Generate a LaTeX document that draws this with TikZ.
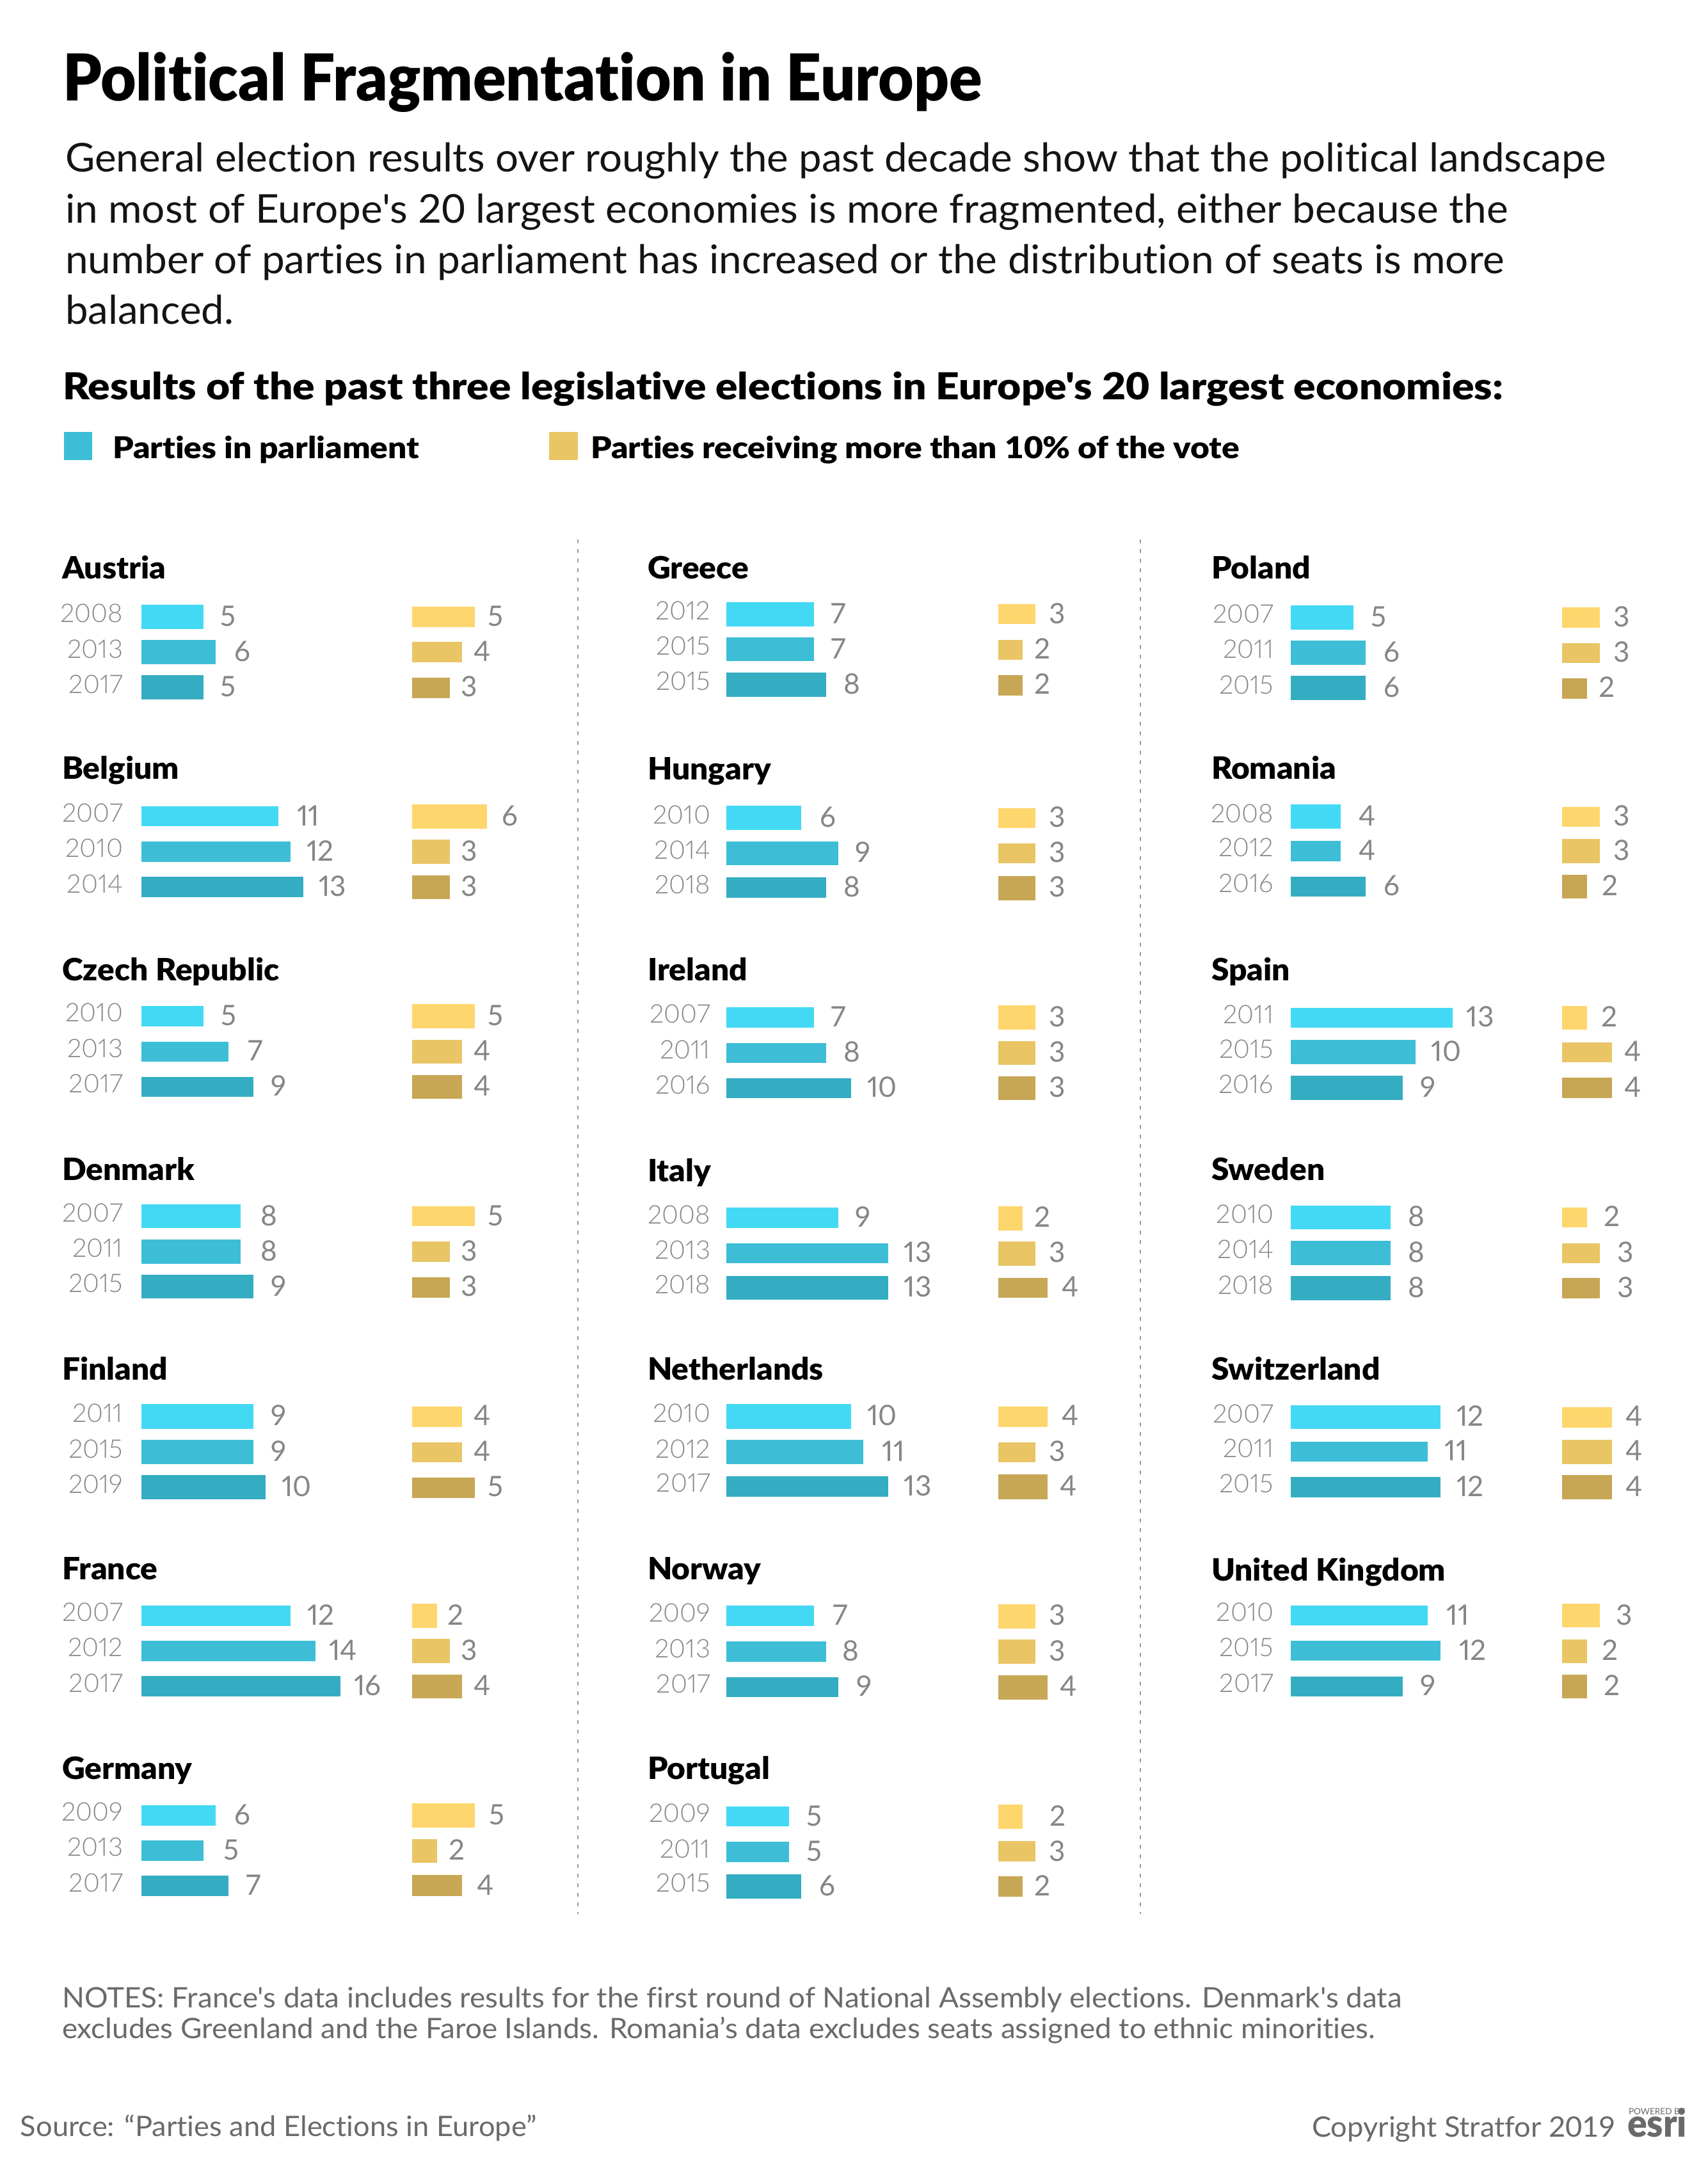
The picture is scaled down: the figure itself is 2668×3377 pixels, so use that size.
\documentclass[tikz,border=0pt]{standalone}
\usepackage{fontspec}
\newfontfamily\regf[Ligatures=NoCommon]{Lato}
\newfontfamily\bodyf[FakeStretch=1.025,Ligatures=NoCommon]{Lato}
\newfontfamily\bodyg[FakeStretch=1.03,Ligatures=NoCommon]{Lato}
\newfontfamily\notef[FakeStretch=1.042,Ligatures=NoCommon]{Lato}
\newfontfamily\srcf[FakeStretch=1.028,Ligatures=NoCommon]{Lato}
\newfontfamily\numf[Numbers=Proportional]{Lato}
\newfontfamily\yearf[Numbers=Proportional]{Lato Light}
\newfontfamily\titlef[FakeStretch=0.95,Ligatures=NoCommon]{Lato Black}
\newfontfamily\subf[FakeStretch=1.104,Ligatures=NoCommon]{Lato Black}
\newfontfamily\legf[FakeStretch=1.095,Ligatures=NoCommon]{Lato Black}
\newfontfamily\ctyf[FakeStretch=1.035,Ligatures=NoCommon]{Lato Black}
\newfontfamily\esrif[FakeStretch=0.95]{Lato Black}
\newfontfamily\powf{Lato}
\definecolor{tA}{HTML}{43D9F4}
\definecolor{tB}{HTML}{3DBED6}
\definecolor{tC}{HTML}{34ADC2}
\definecolor{yA}{HTML}{FED66E}
\definecolor{yB}{HTML}{E9C565}
\definecolor{yC}{HTML}{C7A755}
\definecolor{yeargrey}{HTML}{868686}
\definecolor{numgrey}{HTML}{868686}
\definecolor{footgrey}{HTML}{6A6A6A}
\definecolor{divgrey}{HTML}{9A9A9A}
\tikzset{
  txt/.style={anchor=base west,inner sep=0pt,outer sep=0pt},
  titletxt/.style={txt,font=\titlef\fontsize{50.5}{60}\selectfont},
  bodytxt/.style={txt,text=black!92,font=\bodyf\fontsize{31}{36}\selectfont},
  bodytxtb/.style={txt,text=black!92,font=\bodyg\fontsize{31}{36}\selectfont},
  subtxt/.style={txt,font=\subf\fontsize{29}{34}\selectfont},
  legtxt/.style={txt,font=\legf\fontsize{23.5}{28}\selectfont},
  ctytxt/.style={txt,font=\ctyf\fontsize{24}{28}\selectfont},
  yeartxt/.style={anchor=base east,inner sep=0pt,outer sep=0pt,text=yeargrey,font=\yearf\fontsize{20}{24}\selectfont},
  numtxt/.style={txt,text=numgrey,font=\numf\fontsize{22}{26}\selectfont},
  notetxt/.style={txt,text=footgrey,font=\notef\fontsize{22}{26}\selectfont},
  foottxt/.style={txt,text=footgrey,font=\srcf\fontsize{22}{26}\selectfont},
  divider/.style={draw=divgrey,line width=1pt,dash pattern=on 3pt off 4.5pt},
}
% row id, year, teal top, bottom, value, number x, yellow top, bottom, value, number x, shade letter
\newcommand{\barrow}[2]{\def\rowid{#1}\def\rowyear{#2}\barrowB}
\newcommand{\barrowB}[9]{%
  \fill[t#9] (\bx,#1) rectangle ({\bx+#3*19.47},#2);
  \fill[y#9] (\yx,#5) rectangle ({\yx+#7*19.47},#6);
  \pgfmathsetmacro{\mid}{(#1+#2)/2}
  \node[yeartxt] (\rowid y) at (\yrx,{\mid+9}) {\rowyear};
  \node[numtxt] (\rowid n) at (#4,{\mid+14.5}) {#3};
  \node[numtxt] (\rowid m) at (#8,{\mid+14.5}) {#7};
}
\begin{document}
\begin{tikzpicture}[x=0.5pt,y=-0.5pt]
\path[use as bounding box,fill=white] (0,0) rectangle (2668,3377);
\node[titletxt] (title) at (98,158) {Political Fragmentation in Europe};
\node[bodytxt] (b1) at (102,268.6) {General election results over roughly the past decade show that the political landscape};
\node[bodytxtb] (b2) at (102,348) {in most of Europe's 20 largest economies is more fragmented, either because the};
\node[bodytxtb] (b3) at (102,427) {number of parties in parliament has increased or the distribution of seats is more};
\node[bodytxt] (b4) at (102,506.5) {balanced.};
\node[subtxt] (sub) at (98,624) {Results of the past three legislative elections in Europe's 20 largest economies:};
\fill[tB] (100,675) rectangle (144,719);
\node[legtxt] (lega) at (176,716) {Parties in parliament};
\fill[yB] (858,675) rectangle (903,719);
\node[legtxt] (legb) at (923,716) {Parties receiving more than 10\% of the vote};
\coordinate (d1a) at (902.5,843); \coordinate (d1b) at (902.5,2991);
\coordinate (d2a) at (1782,843); \coordinate (d2b) at (1782,2991);
\draw[divider] (d1a) -- (d1b);
\draw[divider] (d2a) -- (d2b);
% column 1
\def\bx{220.6}\def\yx{644.4}\def\yrx{192}\def\tx{97}
\node[ctytxt] (c1) at (\tx,904) {Austria};
\barrow{a1}{2008}{944.7}{982.7}{5}{344}{948.3}{979.6}{5}{762}{A}
\barrow{a2}{2013}{1000.1}{1038}{6}{366}{1003.2}{1034.9}{4}{740}{B}
\barrow{a3}{2017}{1055}{1093}{5}{344}{1058.6}{1090.7}{3}{720}{C}
\node[ctytxt] (c2) at (\tx,1217) {Belgium};
\barrow{b1r}{2007}{1259.9}{1291.2}{11}{464}{1256.8}{1294.7}{6}{784}{A}
\barrow{b2r}{2010}{1314.8}{1346.5}{12}{479}{1312}{1350}{3}{720}{B}
\barrow{b3r}{2014}{1370.2}{1401.9}{13}{498}{1367.5}{1405}{3}{720}{C}
\node[ctytxt] (c3) at (\tx,1532) {Czech Republic};
\barrow{c1r}{2010}{1571.9}{1603.6}{5}{345}{1569}{1607.1}{5}{762}{A}
\barrow{c2r}{2013}{1627.6}{1659.2}{7}{387}{1624.5}{1662.2}{4}{740.5}{B}
\barrow{c3r}{2017}{1682.7}{1713.8}{9}{423}{1680}{1717.3}{4}{740.5}{C}
\node[ctytxt] (c4) at (\tx,1844) {Denmark};
\barrow{d1r}{2007}{1881.6}{1919.4}{8}{407}{1885.2}{1916.3}{5}{762}{A}
\barrow{d2r}{2011}{1937.2}{1974.5}{8}{407}{1940.3}{1971.9}{3}{720}{B}
\barrow{d3r}{2015}{1992}{2029.4}{9}{423}{1996}{2027.5}{3}{720}{C}
\node[ctytxt] (c5) at (\tx,2156) {Finland};
\barrow{e1r}{2011}{2194.4}{2232.5}{9}{423}{2198}{2230}{4}{740.5}{A}
\barrow{e2r}{2015}{2250}{2288}{9}{423}{2254}{2285}{4}{740.5}{B}
\barrow{e3r}{2019}{2305}{2343}{10}{440}{2309}{2340.6}{5}{762}{C}
\node[ctytxt] (c6) at (\tx,2468) {France};
\barrow{f1r}{2007}{2508.8}{2540.6}{12}{480}{2506}{2543.8}{2}{699}{A}
\barrow{f2r}{2012}{2563.8}{2595.6}{14}{514}{2561}{2598.8}{3}{720}{B}
\barrow{f3r}{2017}{2619.4}{2651}{16}{553}{2616.9}{2654.4}{4}{740.5}{C}
\node[ctytxt] (c7) at (\tx,2780) {Germany};
\barrow{g1r}{2009}{2821}{2852.5}{6}{366}{2818}{2856}{5}{764}{A}
\barrow{g2r}{2013}{2876}{2907.5}{5}{349}{2873.8}{2911}{2}{701}{B}
\barrow{g3r}{2017}{2931}{2963}{7}{384}{2930}{2962.5}{4}{745}{C}
% column 2
\def\bx{1135.2}\def\yx{1559.5}\def\yrx{1110}\def\tx{1012}
\node[ctytxt] (c8) at (\tx,904) {Greece};
\barrow{h1r}{2012}{940.7}{978.6}{7}{1298.5}{944.2}{975}{3}{1639.7}{A}
\barrow{h2r}{2015}{996}{1033}{7}{1298.5}{999.6}{1031.2}{2}{1616}{B}
\barrow{h3r}{2015}{1050.8}{1088.7}{8}{1318.7}{1055}{1086.6}{2}{1616}{C}
\node[ctytxt] (c9) at (\tx,1218) {Hungary};
\barrow{i1r}{2010}{1259.2}{1297}{6}{1281}{1262.7}{1294.2}{3}{1639.7}{A}
\barrow{i2r}{2014}{1314.6}{1351.8}{9}{1336}{1318}{1349}{3}{1639.7}{B}
\barrow{i3r}{2018}{1371.4}{1403}{8}{1318.7}{1368.6}{1406.5}{3}{1639.7}{C}
\node[ctytxt] (c10) at (\tx,1532) {Ireland};
\barrow{j1r}{2007}{1574}{1605.7}{7}{1298.5}{1570.6}{1609}{3}{1639.7}{A}
\barrow{j2r}{2011}{1629.6}{1661}{8}{1318.7}{1626.8}{1664}{3}{1639.7}{B}
\barrow{j3r}{2016}{1685}{1715.8}{10}{1355.4}{1682}{1719.4}{3}{1639.7}{C}
\node[ctytxt] (c11) at (\tx,1846) {Italy};
\barrow{k1r}{2008}{1887}{1919.3}{9}{1336}{1885}{1922.8}{2}{1616}{A}
\barrow{k2r}{2013}{1942.5}{1974}{13}{1412.8}{1939.6}{1978}{3}{1639.7}{B}
\barrow{k3r}{2018}{1993.5}{2031}{13}{1412.8}{1997}{2028}{4}{1659.5}{C}
\node[ctytxt] (c12) at (\tx,2156) {Netherlands};
\barrow{l1r}{2010}{2194.4}{2232.5}{10}{1355.4}{2198}{2230}{4}{1659.5}{A}
\barrow{l2r}{2012}{2250}{2288}{11}{1378.8}{2253.8}{2285}{3}{1639.7}{B}
\barrow{l3r}{2017}{2306.9}{2338.8}{13}{1412.8}{2304}{2342.5}{4}{1656.7}{C}
\node[ctytxt] (c13) at (\tx,2468) {Norway};
\barrow{m1r}{2009}{2509.4}{2541}{7}{1301.7}{2507}{2545}{3}{1639.7}{A}
\barrow{m2r}{2013}{2565}{2597}{8}{1316}{2562}{2600}{3}{1639.7}{B}
\barrow{m3r}{2017}{2620.6}{2652}{9}{1338.4}{2617.5}{2655.6}{4}{1656.7}{C}
\node[ctytxt] (c14) at (\tx,2780) {Portugal};
\barrow{n1r}{2009}{2823}{2854.4}{5}{1260}{2820}{2858}{2}{1640}{A}
\barrow{n2r}{2011}{2878}{2910}{5}{1260}{2877}{2909}{3}{1639.7}{B}
\barrow{n3r}{2015}{2928.8}{2966.9}{6}{1280}{2931.9}{2963.8}{2}{1616}{C}
% column 3
\def\bx{2017.2}\def\yx{2441.4}\def\yrx{1990}\def\tx{1893}
\node[ctytxt] (c15) at (\tx,904) {Poland};
\barrow{o1r}{2007}{945.6}{983.5}{5}{2142}{949}{980.7}{3}{2521}{A}
\barrow{o2r}{2011}{1001}{1038.9}{6}{2162}{1004.5}{1036}{3}{2521}{B}
\barrow{o3r}{2015}{1056.4}{1094.3}{6}{2162}{1060}{1091.5}{2}{2498}{C}
\node[ctytxt] (c16) at (\tx,1217) {Romania};
\barrow{p1r}{2008}{1257}{1295}{4}{2123.5}{1260.6}{1292}{3}{2521}{A}
\barrow{p2r}{2012}{1313.9}{1345.5}{4}{2123.5}{1311}{1349}{3}{2521}{B}
\barrow{p3r}{2016}{1370}{1400.9}{6}{2162}{1366.5}{1404.4}{2}{2503.5}{C}
\node[ctytxt] (c17) at (\tx,1532) {Spain};
\barrow{q1r}{2011}{1574.8}{1605.7}{13}{2291.6}{1572}{1609}{2}{2502}{A}
\barrow{q2r}{2015}{1625.4}{1663.2}{10}{2236.6}{1628.9}{1660.4}{4}{2538.7}{B}
\barrow{q3r}{2016}{1680.8}{1718.7}{9}{2219.6}{1684.3}{1715.8}{4}{2538.7}{C}
\node[ctytxt] (c18) at (\tx,1844) {Sweden};
\barrow{r1r}{2010}{1883.5}{1921.4}{8}{2200.6}{1887}{1918}{2}{2506}{A}
\barrow{r2r}{2014}{1939}{1976.8}{8}{2200.6}{1942.5}{1974}{3}{2527}{B}
\barrow{r3r}{2018}{1994.3}{2031.7}{8}{2200.6}{1997}{2029}{3}{2527}{C}
\node[ctytxt] (c19) at (\tx,2156) {Switzerland};
\barrow{s1r}{2007}{2195.6}{2233.3}{12}{2276}{2199}{2230.7}{4}{2540.7}{A}
\barrow{s2r}{2011}{2252.8}{2284}{11}{2257.6}{2249.8}{2287.5}{4}{2540.7}{B}
\barrow{s3r}{2015}{2307.9}{2339.5}{12}{2276}{2305}{2343}{4}{2540.7}{C}
\node[ctytxt] (c20) at (\tx,2470) {United Kingdom};
\barrow{t1r}{2010}{2508.7}{2540.3}{11}{2260.7}{2506}{2543.4}{3}{2525.7}{A}
\barrow{t2r}{2015}{2564}{2595.4}{12}{2280.5}{2561.6}{2598.9}{2}{2503.5}{B}
\barrow{t3r}{2017}{2619.7}{2650.9}{9}{2219.6}{2616.7}{2654}{2}{2506}{C}
% footer
\node[notetxt] (note1) at (97,3137.5) {NOTES: France's data includes results for the first round of National Assembly elections. Denmark's data};
\node[notetxt] (note2) at (97,3185) {excludes Greenland and the Faroe Islands. Romania’s data excludes seats assigned to ethnic minorities.};
\node[foottxt] (src) at (32,3338) {Source: “Parties and Elections in Europe”};
\node[foottxt] (copy) at (2050,3339) {Copyright Stratfor 2019};
\node[txt,text=footgrey,font=\powf\fontsize{6.8}{8}\selectfont] (pow) at (2545,3304) {POWERED BY};
\node[txt,text=footgrey,text height=14pt,font=\esrif\fontsize{30}{32}\selectfont] (esri) at (2543,3339) {esri};
\end{tikzpicture}
\end{document}
